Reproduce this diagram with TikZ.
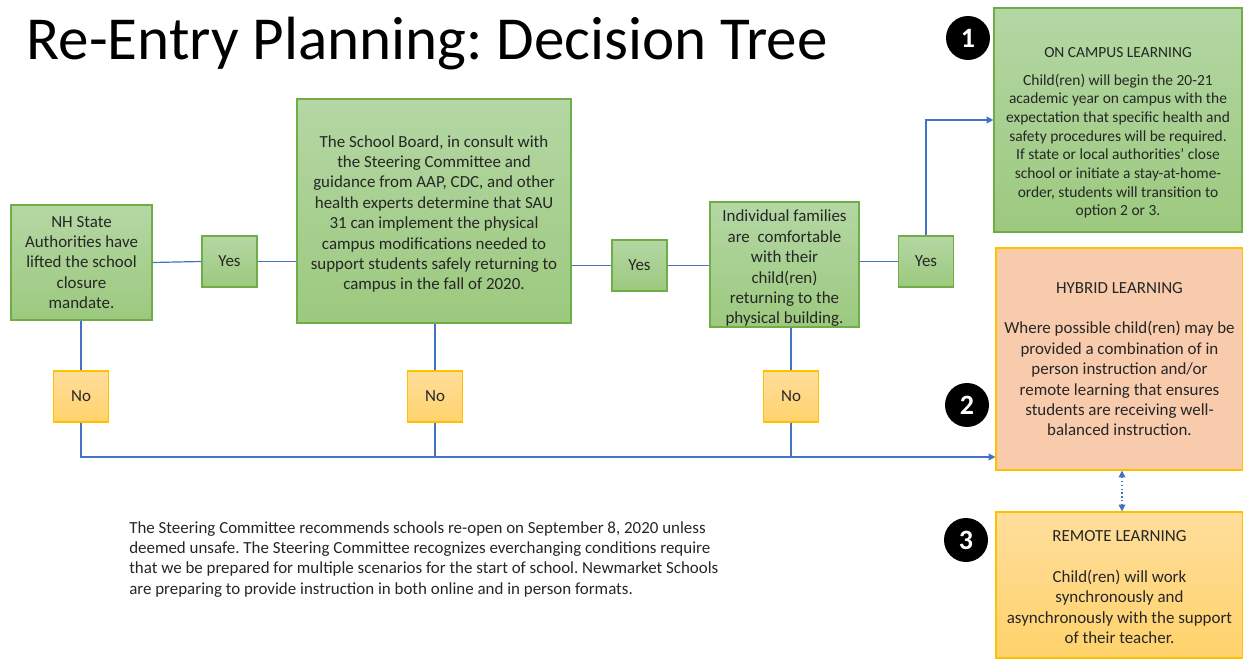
\documentclass[tikz,border=0pt]{standalone}
\usepackage{fontspec}
\setmainfont{Carlito}
\frenchspacing
\usetikzlibrary{arrows.meta}
\definecolor{gfillA}{HTML}{B4D7A4}
\definecolor{gfillB}{HTML}{9CC97E}
\definecolor{gline}{HTML}{70AD47}
\definecolor{yfillA}{HTML}{FFDE9C}
\definecolor{yfillB}{HTML}{FFD26B}
\definecolor{yline}{HTML}{FFC000}
\definecolor{hfill}{HTML}{F8CBAD}
\definecolor{conn}{HTML}{4472C4}
\definecolor{txt}{HTML}{262626}
\tikzset{
  base/.style={rectangle, inner sep=2pt, align=center, text=txt,
    font=\fontsize{12.7}{15.3}\selectfont, line width=0.9pt},
  gbox/.style={base, draw=gline, top color=gfillA, bottom color=gfillB},
  ybox/.style={base, draw=yline, top color=yfillA, bottom color=yfillB},
  hbox/.style={base, draw=yline, fill=hfill},
  inside/.style={align=center, text=txt, inner sep=0pt, font=\fontsize{12.7}{15.3}\selectfont},
  small/.style={minimum width=55*0.75pt, minimum height=51*0.75pt},
  wire/.style={draw=conn, line width=0.9pt},
  arr/.style={wire, -{Triangle[length=5pt,width=5pt]}},
  numc/.style={circle, fill=black, text=white, minimum size=44*0.75pt, inner sep=0pt,
    font=\fontsize{21}{21}\selectfont\bfseries},
}
\begin{document}
\begin{tikzpicture}[x=0.75pt,y=-0.75pt]
\useasboundingbox (0,0) rectangle (1243,659);

\node[anchor=base west, font=\fontsize{45.8}{50}\selectfont, text=black] (title) at (22,60) {Re-Entry Planning: Decision Tree};

\node[gbox, minimum width=141*0.75pt, minimum height=115*0.75pt] (nh) at (81.5,262.5)
  {NH State\\Authorities have\\lifted the school\\closure\\mandate.};
\node[gbox, small] (yes1) at (229.5,261.5) {Yes};
\node[gbox, minimum width=274*0.75pt, minimum height=224*0.75pt] (sb) at (434,211) {};
\node[inside] (sbt) at (434,214)
  {The School Board, in consult with\\the Steering Committee and\\guidance from AAP, CDC, and other\\health experts determine that SAU\\31 can implement the physical\\campus modifications needed to\\support students safely returning to\\campus in the fall of 2020.};
\node[gbox, small] (yes2) at (639.5,265.5) {Yes};
\node[gbox, minimum width=149*0.75pt, minimum height=125*0.75pt] (fam) at (784.5,264.5) {};
\node[inside] (famt) at (784.5,268.5)
  {Individual families\\are\ \ comfortable\\with their\\child(ren)\\returning to the\\physical building.};
\node[gbox, small] (yes3) at (926,261.5) {Yes};

\node[ybox, small] (no1) at (81,396.5) {No};
\node[ybox, small] (no2) at (435,396.5) {No};
\node[ybox, small] (no3) at (791,396.5) {No};

\node[gbox, minimum width=248*0.75pt, minimum height=224*0.75pt] (onc) at (1118,120) {};
\node[inside, font=\fontsize{11.6}{14}\selectfont] (onct) at (1118,133)
  {ON CAMPUS LEARNING\\[6.75pt]Child(ren) will begin the 20-21\\academic year on campus with the\\expectation that specific health and\\safety procedures will be required.\\If state or local authorities' close\\school or initiate a stay-at-home-\\order, students will transition to\\option 2 or 3.};
\node[hbox, minimum width=247*0.75pt, minimum height=222*0.75pt] (hyb) at (1119.5,359)
  {HYBRID LEARNING\\[15.3pt]Where possible child(ren) may be\\provided a combination of in\\person instruction and/or\\remote learning that ensures\\students are receiving well-\\balanced instruction.};
\node[ybox, minimum width=247*0.75pt, minimum height=146*0.75pt] (rem) at (1119.5,585) {};
\node[inside] (remt) at (1119.5,587)
  {REMOTE LEARNING\\[15.3pt]Child(ren) will work\\synchronously and\\asynchronously with the support\\of their teacher.};

\node[numc] (c1) at (968,38) {1};
\node[numc] (c2) at (967,405) {2};
\node[numc] (c3) at (966,540) {3};

\node[anchor=north west, align=left, text=txt, font=\fontsize{12.7}{15.3}\selectfont, inner sep=0pt] (note) at (129,521)
  {The Steering Committee recommends schools re-open on September 8, 2020 unless\\deemed unsafe. The Steering Committee recognizes everchanging conditions require\\that we be prepared for multiple scenarios for the start of school. Newmarket Schools\\are preparing to provide instruction in both online and in person formats.};

% yes path
\draw[wire] (nh.east) -- (yes1.west);
\draw[wire] (yes1.east) -- (yes1.east -| sb.west);
\draw[wire] (yes2.west -| sb.east) -- (yes2.west);
\draw[wire] (yes2.east) -- (yes2.east -| fam.west);
\draw[wire] (yes3.west -| fam.east) -- (yes3.west);
\coordinate (k1) at (926,120);
\draw[arr] (yes3.north) -- (k1) -- (k1 -| onc.west);

% no path
\coordinate (bus) at (81,457);
\coordinate (bus2) at (435,457);
\coordinate (bus3) at (791,457);
\draw[wire] (nh.south -| no1.north) -- (no1.north);
\draw[wire] (sb.south -| no2.north) -- (no2.north);
\draw[wire] (fam.south -| no3.north) -- (no3.north);
\draw[wire] (no2.south) -- (bus2);
\draw[wire] (no3.south) -- (bus3);
\draw[arr] (no1.south) -- (bus) -- (bus -| hyb.west);

% hybrid <-> remote
\draw[wire, dotted, {Triangle[length=5pt,width=5pt]}-{Triangle[length=5pt,width=5pt]}] (hyb.south -| 1122,0) -- (rem.north -| 1122,0);
\end{tikzpicture}
\end{document}
